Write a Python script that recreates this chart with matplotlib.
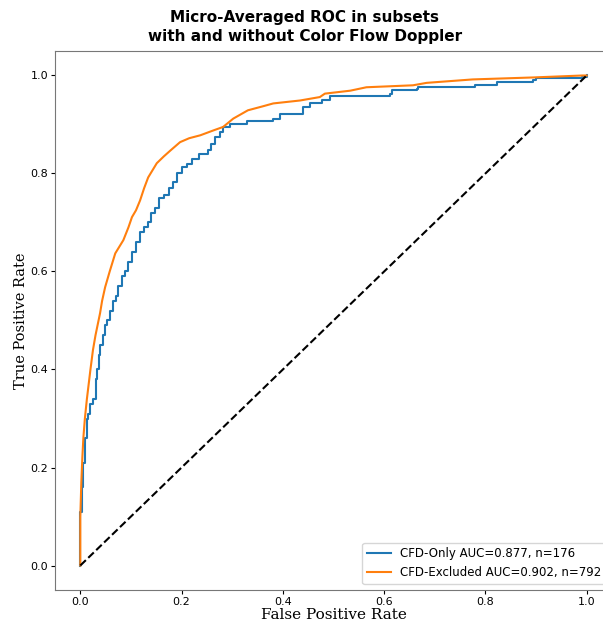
import matplotlib
matplotlib.use('Agg')
import matplotlib.pyplot as plt

# ROC points
fpr_cfd_only = [0, 0, 0.003, 0.006, 0.01, 0.013, 0.016, 0.02, 0.026, 0.03, 0.033, 0.036, 0.039,
                0.045, 0.049, 0.053, 0.058, 0.065, 0.07, 0.075, 0.082, 0.088, 0.095, 0.102, 0.11,
                0.118, 0.126, 0.134, 0.14, 0.148, 0.155, 0.165, 0.175, 0.183, 0.19, 0.2, 0.21,
                0.22, 0.235, 0.252, 0.258, 0.266, 0.275, 0.282, 0.296, 0.33, 0.38, 0.394, 0.43,
                0.44, 0.454, 0.477, 0.493, 0.611, 0.615, 0.664, 0.667, 0.78, 0.822, 0.894, 0.9,
                0.99, 1.0]
tpr_cfd_only = [0, 0.11, 0.16, 0.21, 0.26, 0.30, 0.31, 0.33, 0.34, 0.38, 0.40, 0.43, 0.45,
                0.47, 0.49, 0.50, 0.52, 0.54, 0.55, 0.57, 0.59, 0.60, 0.62, 0.64, 0.66,
                0.68, 0.69, 0.70, 0.72, 0.73, 0.75, 0.756, 0.77, 0.782, 0.80, 0.813, 0.82,
                0.83, 0.84, 0.847, 0.86, 0.874, 0.885, 0.895, 0.902, 0.908, 0.912, 0.922, 0.922,
                0.935, 0.943, 0.949, 0.959, 0.963, 0.971, 0.973, 0.977, 0.98, 0.986, 0.99, 0.994,
                0.996, 1.0]

fpr_cfd_excl = [0, 0, 0.002, 0.004, 0.006, 0.009, 0.013, 0.02, 0.025, 0.03, 0.039, 0.043, 0.049,
                0.058, 0.069, 0.085, 0.095, 0.102, 0.11, 0.118, 0.126, 0.134, 0.151, 0.165, 0.178,
                0.197, 0.215, 0.237, 0.263, 0.282, 0.302, 0.331, 0.36, 0.381, 0.434, 0.473, 0.483,
                0.533, 0.565, 0.657, 0.684, 0.775, 0.894, 0.992, 1.0]
tpr_cfd_excl = [0, 0.10, 0.17, 0.22, 0.26, 0.30, 0.34, 0.40, 0.44, 0.47, 0.515, 0.54, 0.568,
                0.60, 0.637, 0.664, 0.69, 0.711, 0.725, 0.745, 0.77, 0.792, 0.821, 0.835, 0.847,
                0.864, 0.872, 0.878, 0.888, 0.895, 0.912, 0.929, 0.937, 0.943, 0.949, 0.956, 0.963,
                0.969, 0.976, 0.98, 0.985, 0.992, 0.996, 1.0, 1.0]

labels = ['CFD-Only AUC=0.877, n=176', 'CFD-Excluded AUC=0.902, n=792']
title = 'Micro-Averaged ROC in subsets\nwith and without Color Flow Doppler'

fig = plt.figure(figsize=(6.03, 6.25), dpi=100)
ax = fig.add_axes([55 / 603, 35 / 625, 557 / 603, 539 / 625])

ax.plot(fpr_cfd_only, tpr_cfd_only, drawstyle='steps-post', color='#1f77b4', label=labels[0])
ax.plot(fpr_cfd_excl, tpr_cfd_excl, color='#ff7f0e', label=labels[1])
ax.plot([0, 1], [0, 1], 'k--')

ax.set_xlim(-0.05, 1.05)
ax.set_ylim(-0.05, 1.05)
ax.tick_params(labelsize=8, length=3, pad=2)
ax.set_xlabel('False Positive Rate', family='DejaVu Serif', fontsize=11, labelpad=1)
ax.set_ylabel('True Positive Rate', family='DejaVu Serif', fontsize=10.5, labelpad=2)
for s in ax.spines.values():
    s.set_color('#777777')
ax.legend(loc='lower right', fontsize=8.5)

fig.text(305 / 603, 1 - 27 / 625, title, ha='center', va='center', fontsize=11,
         fontweight='bold', linespacing=1.3)

fig.savefig('out.png', dpi=100)
